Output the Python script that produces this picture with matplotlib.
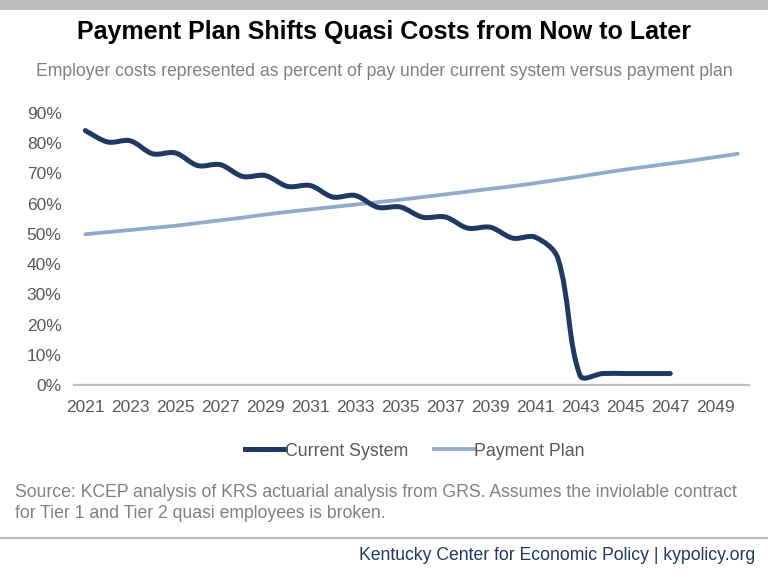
import numpy as np
import matplotlib
matplotlib.use("Agg")
import matplotlib.pyplot as plt
from matplotlib.path import Path
from matplotlib.patches import PathPatch
from matplotlib.lines import Line2D

plt.rcParams['font.family'] = ['Liberation Sans', 'DejaVu Sans']

# data (percent of pay)
years = list(range(2021, 2051))
current_years = list(range(2021, 2048))
current_system = [84.2, 80.4, 80.8, 76.5, 76.8, 72.6, 72.9, 69.0, 69.3, 65.7,
                  66.0, 62.2, 62.7, 58.8, 58.9, 55.5, 55.6, 51.9, 52.2, 48.6,
                  48.9, 42.0, 3.0, 3.8, 3.8, 3.8, 3.8]
payment_plan = [49.9, 50.6, 51.3, 52.0, 52.7, 53.6, 54.5, 55.4, 56.4, 57.3,
                58.1, 58.9, 59.7, 60.5, 61.3, 62.2, 63.1, 64.0, 64.9, 65.8,
                66.8, 67.9, 69.0, 70.2, 71.3, 72.3, 73.3, 74.3, 75.4, 76.5]
tick_years = years[::2]
y_ticks = [0, 10, 20, 30, 40, 50, 60, 70, 80, 90]

title = "Payment Plan Shifts Quasi Costs from Now to Later"
subtitle = "Employer costs represented as percent of pay under current system versus payment plan"
source = ("Source: KCEP analysis of KRS actuarial analysis from GRS. Assumes the inviolable contract\n"
          "for Tier 1 and Tier 2 quasi employees is broken.")
footer = "Kentucky Center for Economic Policy | kypolicy.org"

navy = "#203864"
light = "#8faacb"
grey_txt = "#595959"


def smooth_path(ax, x, y):
    # Excel-like smoothed line: cubic Bezier through each point,
    # tangents weighted by segment lengths on screen
    x = np.asarray(x, float)
    y = np.asarray(y, float)
    pix = ax.transData.transform(np.column_stack([x, y]))
    n = len(x)
    d = np.hypot(np.diff(pix[:, 0]), np.diff(pix[:, 1]))
    verts = [(x[0], y[0])]
    codes = [Path.MOVETO]
    for i in range(n - 1):
        a, b = max(i - 1, 0), min(i + 2, n - 1)
        d01 = d[i - 1] if i > 0 else d[i]
        d12 = d[i]
        d23 = d[i + 1] if i + 1 < n - 1 else d[i]
        k1 = 2 * d12 / (d01 + d12) / 6
        k2 = 2 * d12 / (d12 + d23) / 6
        c1 = (x[i] + (x[i + 1] - x[a]) * k1, y[i] + (y[i + 1] - y[a]) * k1)
        c2 = (x[i + 1] - (x[b] - x[i]) * k2, y[i + 1] - (y[b] - y[i]) * k2)
        verts += [c1, c2, (x[i + 1], y[i + 1])]
        codes += [Path.CURVE4] * 3
    return Path(verts, codes)


fig = plt.figure(figsize=(7.68, 5.81), dpi=100)
ax = fig.add_axes([0.0964, 0.3373, 0.8789, 0.4682])
ax.set_xlim(years[0] - 0.5, years[-1] + 0.5)
ax.set_ylim(0, 90)

ax.add_patch(PathPatch(smooth_path(ax, years, payment_plan), fill=False,
                       edgecolor=light, lw=2.7, capstyle='round', joinstyle='round'))
ax.add_patch(PathPatch(smooth_path(ax, current_years, current_system), fill=False,
                       edgecolor=navy, lw=3.6, capstyle='round', joinstyle='round'))

ax.set_xticks(tick_years)
ax.set_xticklabels([str(t) for t in tick_years])
ax.set_yticks(y_ticks)
ax.set_yticklabels([f"{t}%" for t in y_ticks])
ax.tick_params(axis='both', length=0, labelsize=12.5, colors=grey_txt)
ax.tick_params(axis='x', pad=11)
ax.tick_params(axis='y', pad=9)
for s in ['top', 'right', 'left']:
    ax.spines[s].set_visible(False)
ax.spines['bottom'].set_color("#bfbfbf")
ax.spines['bottom'].set_linewidth(1.6)

handles = [Line2D([], [], color=navy, lw=3.6), Line2D([], [], color=light, lw=2.7)]
fig.legend(handles, ["Current System", "Payment Plan"], loc='center',
           bbox_to_anchor=(0.54, 0.2235), ncol=2, frameon=False,
           fontsize=12.75, handlelength=2.25, handletextpad=0.0,
           columnspacing=1.45, labelcolor=grey_txt)

# top bar and separators
fig.add_artist(plt.Rectangle((0, 1 - 10 / 581), 1, 10 / 581, transform=fig.transFigure,
                             color="#bdbdbd", lw=0))
fig.add_artist(Line2D([0, 1], [1 - 538 / 581] * 2, transform=fig.transFigure,
                      color="#bdbdbd", lw=1.6))

fig.text(0.5, 1 - 32 / 581, title, ha='center', va='center', fontsize=18,
         fontweight='bold', color='black')
fig.text(0.5, 1 - 71 / 581, subtitle, ha='center', va='center', fontsize=12.7,
         color="#808080")
fig.text(15 / 768, 1 - 503 / 581, source, ha='left', va='center', fontsize=12.7,
         color="#808080", linespacing=1.25)
fig.text(755 / 768, 1 - 556 / 581, footer, ha='right', va='center', fontsize=12.7,
         color=navy)

fig.savefig("out.png", dpi=100)
